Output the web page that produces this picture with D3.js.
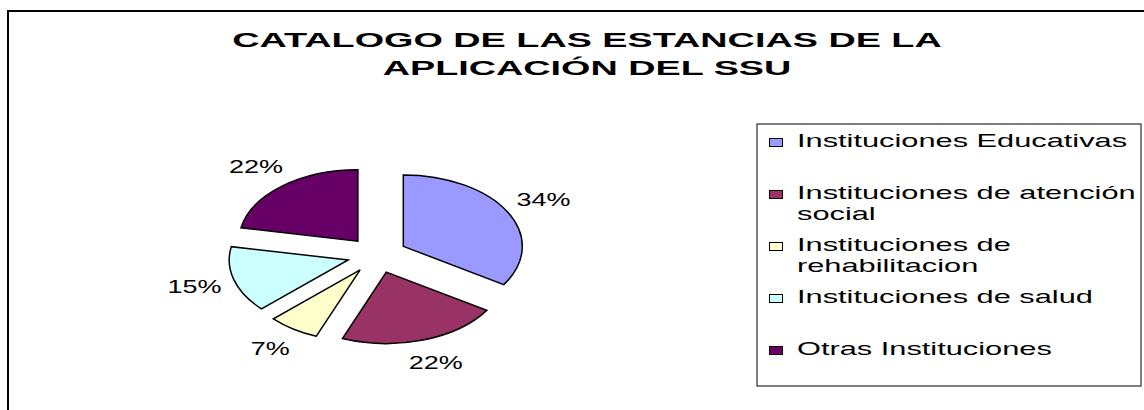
<!DOCTYPE html>
<html>
<head>
<meta charset="utf-8">
<script src="https://cdn.jsdelivr.net/npm/d3@7"></script>
<style>
  body { margin: 0; background: #fff; }
  text { font-family: "Liberation Sans", Arial, sans-serif; fill: #000; }
</style>
</head>
<body>
<svg id="chart" width="1144" height="410"></svg>
<script>
var categories = ["Instituciones Educativas", "Instituciones de atención social",
                  "Instituciones de rehabilitacion", "Instituciones de salud", "Otras Instituciones"];
var legendLines = [["Instituciones Educativas"], ["Instituciones de atención", "social"],
                   ["Instituciones de", "rehabilitacion"], ["Instituciones de salud"], ["Otras Instituciones"]];
var values = [34, 22, 7, 15, 22];
var colors = ["#9999ff", "#993366", "#ffffcc", "#ccffff", "#660066"];
var titleLines = ["CATALOGO DE LAS ESTANCIAS DE LA", "APLICACIÓN DEL SSU"];

var svg = d3.select("#chart");

// outer chart border (runs off the right / bottom edge)
svg.append("rect")
  .attr("x", 8).attr("y", 11)
  .attr("width", 1160).attr("height", 420)
  .attr("fill", "none").attr("stroke", "#000").attr("stroke-width", 2);

// text drawn horizontally stretched, like the source picture
function stretched(x, y, k, str, size, weight, anchor) {
  var g = svg.append("g").attr("transform", "translate(" + x + "," + y + ") scale(" + k + ",1)");
  g.append("text")
    .attr("text-anchor", anchor || "start")
    .style("font-size", size + "px")
    .style("font-weight", weight || "normal")
    .text(str);
  return g;
}

titleLines.forEach(function(t, i) {
  stretched(587, 47 + i * 28, 1.8, t, 21, "bold", "middle");
});

// pie
var cx = 377, cy = 255, r = 119, squash = 0.6, explode = 30, labelR = 190;

var pie = d3.pie().sort(null).value(function(d) { return d; });
var arcs = pie(values);
var arc = d3.arc().innerRadius(0).outerRadius(r);

var pieG = svg.append("g")
  .attr("transform", "translate(" + cx + "," + cy + ") scale(1," + squash + ")");

pieG.selectAll("path")
  .data(arcs)
  .enter()
  .append("path")
  .attr("d", arc)
  .attr("transform", function(d) {
    var a = (d.startAngle + d.endAngle) / 2;
    return "translate(" + (Math.sin(a) * explode) + "," + (-Math.cos(a) * explode) + ")";
  })
  .attr("fill", function(d, i) { return colors[i]; })
  .attr("stroke", "#000")
  .attr("stroke-width", 1.5)
  .attr("vector-effect", "non-scaling-stroke");

arcs.forEach(function(d) {
  var a = (d.startAngle + d.endAngle) / 2;
  var lx = cx + Math.sin(a) * labelR;
  var ly = cy - Math.cos(a) * labelR * squash;
  stretched(lx, ly + 6, 1.5, d.value + "%", 18, "normal", "middle");
});

// legend
var lx0 = 757, ly0 = 124;
svg.append("rect")
  .attr("x", lx0).attr("y", ly0)
  .attr("width", 384).attr("height", 262)
  .attr("fill", "#fff").attr("stroke", "#000").attr("stroke-width", 1);

legendLines.forEach(function(lines, i) {
  var base = 147 + i * 52;
  svg.append("rect")
    .attr("x", 769.5).attr("y", base - 8.5)
    .attr("width", 13).attr("height", 8)
    .attr("fill", colors[i]).attr("stroke", "#000").attr("stroke-width", 1);
  lines.forEach(function(t, j) {
    stretched(797, base + j * 21, 1.71, t, 18, "normal", "start");
  });
});
</script>
</body>
</html>
